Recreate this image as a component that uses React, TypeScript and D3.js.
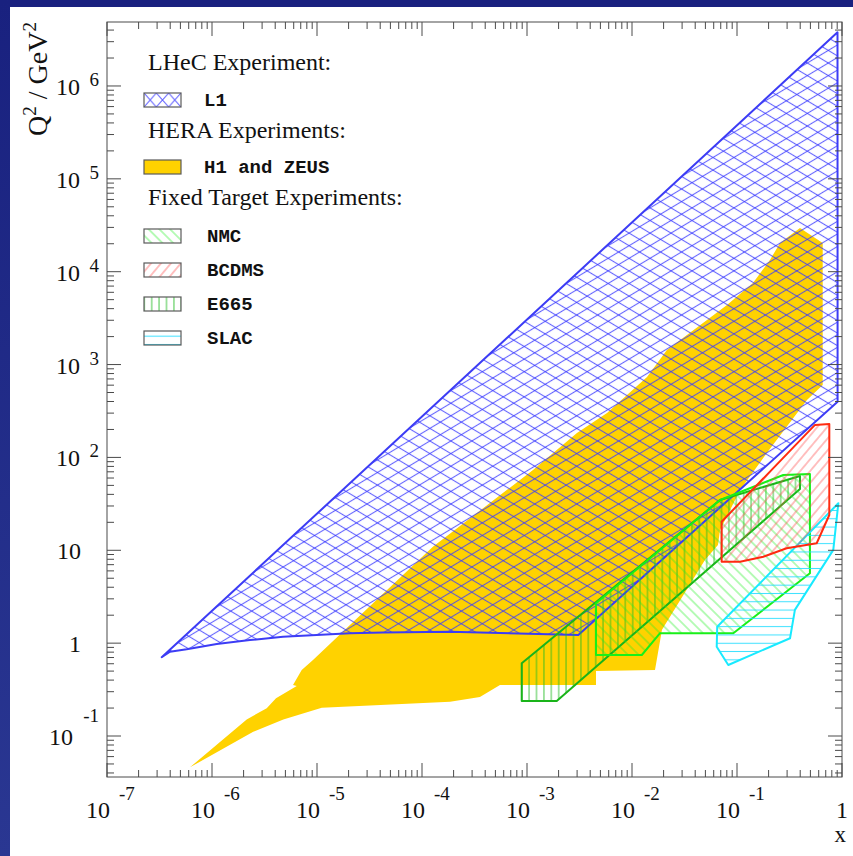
import React from "react";
import * as d3 from "d3";

const WIDTH = 853;
const HEIGHT = 856;

type Pt = [number, number];

// ---- kinematic regions in the (x, Q^2) plane ----
const lhecL1: Pt[] = [
  [3.32e-7, 0.705],
  [0.906, 3.78e6],
  [0.908, 398],
  [3.08e-3, 1.224],
  [1.85e-4, 1.33],
  [4.25e-5, 1.3],
  [2.06e-5, 1.28],
  [9.9e-6, 1.22],
  [4.74e-6, 1.17],
  [2.3e-6, 1.08],
  [1.11e-6, 0.98],
  [5.74e-7, 0.86],
  [3.98e-7, 0.81],
];

const heraH1Zeus: Pt[] = [
  [6.17e-7, 0.046],
  [2.14e-6, 0.151],
  [3.32e-6, 0.199],
  [4.07e-6, 0.255],
  [6.41e-6, 0.346],
  [5.91e-6, 0.354],
  [7.15e-6, 0.514],
  [9.16e-6, 0.659],
  [2.06e-5, 1.57],
  [1.27e-4, 10.9],
  [1.14e-3, 73.3],
  [2.99e-3, 183],
  [5.78e-3, 301],
  [1.39e-2, 735],
  [2.15e-2, 1435],
  [5.18e-2, 3020],
  [8.03e-2, 4385],
  [0.142, 7565],
  [0.206, 13370],
  [0.257, 20400],
  [0.398, 29600],
  [0.655, 20400],
  [0.655, 603],
  [0.464, 416],
  [0.193, 112],
  [0.107, 44.6],
  [0.0689, 16.5],
  [0.0659, 11.4],
  [0.0495, 7.87],
  [0.0193, 1.39],
  [0.01656, 0.514],
  [4.54e-3, 0.501],
  [4.54e-3, 0.354],
  [5.53e-4, 0.354],
  [3.56e-4, 0.263],
  [1.85e-4, 0.234],
  [1.11e-5, 0.202],
  [4.78e-6, 0.151],
  [2.47e-6, 0.111],
];

const nmc: Pt[] = [
  [4.54e-3, 2.69],
  [4.54e-3, 0.745],
  [1.24e-2, 0.745],
  [1.85e-2, 1.28],
  [9.22e-2, 1.28],
  [0.495, 5.65],
  [0.495, 66.3],
  [0.276, 64.7],
  [0.0689, 34.8],
];

const bcdms: Pt[] = [
  [0.0714, 7.54],
  [0.0714, 20.3],
  [0.553, 224],
  [0.757, 229],
  [0.757, 24.0],
  [0.574, 11.9],
  [0.297, 10.5],
  [0.178, 8.53],
  [0.107, 7.54],
];

const e665: Pt[] = [
  [8.91e-4, 0.607],
  [0.0689, 34.8],
  [0.398, 63.1],
  [0.398, 45.7],
  [1.92e-3, 0.238],
  [8.91e-4, 0.238],
];

const slac: Pt[] = [
  [0.0648, 1.5],
  [0.923, 32.1],
  [0.826, 10.1],
  [0.356, 2.28],
  [0.32, 1.13],
  [0.0826, 0.582],
  [0.0641, 0.916],
];

// ---- axis labels ----
const xTickLabels = [
  { v: 1e-7, base: "10", exp: "-7" },
  { v: 1e-6, base: "10", exp: "-6" },
  { v: 1e-5, base: "10", exp: "-5" },
  { v: 1e-4, base: "10", exp: "-4" },
  { v: 1e-3, base: "10", exp: "-3" },
  { v: 1e-2, base: "10", exp: "-2" },
  { v: 1e-1, base: "10", exp: "-1" },
  { v: 1, base: "1", exp: "" },
];
const yTickLabels = [
  { v: 1e-1, base: "10", exp: "-1" },
  { v: 1, base: "1", exp: "" },
  { v: 10, base: "10", exp: "" },
  { v: 1e2, base: "10", exp: "2" },
  { v: 1e3, base: "10", exp: "3" },
  { v: 1e4, base: "10", exp: "4" },
  { v: 1e5, base: "10", exp: "5" },
  { v: 1e6, base: "10", exp: "6" },
];

// ---- legend ----
const legendHeadings = ["LHeC Experiment:", "HERA Experiments:", "Fixed Target Experiments:"];
const legendEntries = ["L1", "H1 and ZEUS", "NMC", "BCDMS", "E665", "SLAC"];

// ---- layout ----
const plot = { left: 107, right: 842, top: 22, bottom: 777 };
const headingBaselines = [70, 138, 205];
const entryCenters = [100, 167, 236, 270, 304, 338];
const SERIF = "'Liberation Serif', 'Times New Roman', Times, serif";
const MONO = "'Liberation Mono', 'Courier New', Courier, monospace";
const AXIS = "#4a4a4a";

const x = d3.scaleLog().domain([1e-7, 1]).range([plot.left, plot.right]);
const y = d3
  .scaleLog()
  .domain([Math.pow(10, -1.4415), Math.pow(10, 6.689)])
  .range([plot.bottom, plot.top]);

const area = (pts: Pt[]) =>
  (d3
    .line<Pt>()
    .x((d) => x(d[0]))
    .y((d) => y(d[1]))(pts) || "") + "Z";

function logTicks(lo: number, hi: number, dom: [number, number]) {
  const major: number[] = [];
  const minor: number[] = [];
  for (let e = lo; e <= hi; e++) {
    for (let k = 1; k <= 9; k++) {
      const v = k * Math.pow(10, e);
      if (v < dom[0] * 0.999 || v > dom[1] * 1.001) continue;
      (k === 1 ? major : minor).push(v);
    }
  }
  return { major, minor };
}

const xt = logTicks(-7, 0, [1e-7, 1]);
const yt = logTicks(-2, 6, y.domain() as [number, number]);

function Hatch({
  id,
  angle,
  spacing,
  color,
  width = 1,
  opacity = 1,
}: {
  id: string;
  angle: number;
  spacing: number;
  color: string;
  width?: number;
  opacity?: number;
}) {
  return (
    <pattern
      id={id}
      patternUnits="userSpaceOnUse"
      width={spacing}
      height={spacing}
      patternTransform={`rotate(${angle})`}
    >
      <line
        x1={-1}
        x2={spacing + 1}
        y1={spacing / 2}
        y2={spacing / 2}
        stroke={color}
        strokeWidth={width}
        strokeOpacity={opacity}
      />
    </pattern>
  );
}

const MAJ = 14;
const MIN = 7;

export default function App() {
  const gold = "#ffd200";
  const l1Line = "#3c3cf5";
  const l1Fill = ["url(#l1a)", "url(#l1b)"];

  const swatchX = 144;
  const swatchW = 37;
  const swatchH = 14;
  const crossW = swatchW / 3;

  const swatchFills: string[][] = [
    ["url(#l1leg)"],
    [gold],
    ["url(#nmcH)"],
    ["url(#bcdmsH)"],
    ["url(#e665H)"],
    ["url(#slacH)"],
  ];

  return (
    <svg
      width={WIDTH}
      height={HEIGHT}
      style={{ position: "absolute", left: 0, top: 0, display: "block" }}
      xmlns="http://www.w3.org/2000/svg"
    >
      <defs>
        <linearGradient id="frameGrad" x1="0" y1="0" x2="0" y2="1">
          <stop offset="0%" stopColor="#19217f" />
          <stop offset="100%" stopColor="#2a3792" />
        </linearGradient>
        <Hatch id="l1a" angle={-31} spacing={10.8} color="#3a3aff" width={1.1} opacity={0.78} />
        <Hatch id="l1b" angle={31} spacing={10.8} color="#3a3aff" width={1.1} opacity={0.78} />
        <pattern
          id="l1leg"
          patternUnits="userSpaceOnUse"
          x={swatchX}
          y={entryCenters[0] - swatchH / 2}
          width={crossW}
          height={swatchH}
        >
          <path
            d={`M0,0L${crossW},${swatchH}M0,${swatchH}L${crossW},0`}
            stroke="#3a3aff"
            strokeOpacity={0.78}
            strokeWidth={1.1}
            fill="none"
          />
        </pattern>
        <Hatch id="nmcH" angle={45} spacing={7.6} color="#22ee22" opacity={0.65} />
        <Hatch id="bcdmsH" angle={-50} spacing={7.6} color="#ff4040" opacity={0.65} />
        <Hatch id="e665H" angle={90} spacing={7.4} color="#22bb22" opacity={0.85} />
        <Hatch id="slacH" angle={0} spacing={8.3} color="#22ddff" opacity={0.9} />
      </defs>

      {/* page background and blue frame */}
      <rect x={0} y={0} width={WIDTH} height={HEIGHT} fill="#ffffff" />
      <rect x={0} y={0} width={WIDTH} height={7} fill="#19217f" />
      <rect x={0} y={0} width={10} height={HEIGHT} fill="url(#frameGrad)" />

      {/* HERA */}
      <path d={area(heraH1Zeus)} fill={gold} />

      {/* LHeC */}
      {l1Fill.map((f) => (
        <path key={f} d={area(lhecL1)} fill={f} />
      ))}
      <path d={area(lhecL1)} fill="none" stroke={l1Line} strokeWidth={2} strokeLinejoin="round" />

      {/* fixed target experiments */}
      <path d={area(e665)} fill="url(#e665H)" stroke="#1ab41a" strokeWidth={2} strokeLinejoin="round" />
      <path d={area(nmc)} fill="url(#nmcH)" stroke="#18f018" strokeWidth={2} strokeLinejoin="round" />
      <path d={area(slac)} fill="url(#slacH)" stroke="#18eaff" strokeWidth={2} strokeLinejoin="round" />
      <path d={area(bcdms)} fill="url(#bcdmsH)" stroke="#ff2a10" strokeWidth={2} strokeLinejoin="round" />

      {/* frame */}
      <rect
        x={plot.left}
        y={plot.top}
        width={plot.right - plot.left}
        height={plot.bottom - plot.top}
        fill="none"
        stroke={AXIS}
        strokeWidth={1}
      />

      {/* ticks on all four sides */}
      <g stroke={AXIS} strokeWidth={1}>
        {[...xt.major.map((v) => [v, MAJ]), ...xt.minor.map((v) => [v, MIN])].map(([v, len], i) => (
          <g key={"xt" + i}>
            <line x1={x(v)} x2={x(v)} y1={plot.bottom} y2={plot.bottom - len} />
            <line x1={x(v)} x2={x(v)} y1={plot.top} y2={plot.top + len} />
          </g>
        ))}
        {[...yt.major.map((v) => [v, MAJ]), ...yt.minor.map((v) => [v, MIN])].map(([v, len], i) => (
          <g key={"yt" + i}>
            <line x1={plot.left} x2={plot.left + len} y1={y(v)} y2={y(v)} />
            <line x1={plot.right} x2={plot.right - len} y1={y(v)} y2={y(v)} />
          </g>
        ))}
      </g>

      {/* x tick labels */}
      <g fontFamily={SERIF} fill="#111">
        {xTickLabels.map((t) =>
          t.exp ? (
            <g key={"xl" + t.v}>
              <text x={x(t.v) + 3} y={plot.bottom + 41} fontSize={24} textAnchor="end">
                {t.base}
              </text>
              <text x={x(t.v) + 12} y={plot.bottom + 23} fontSize={19}>
                {t.exp}
              </text>
            </g>
          ) : (
            <text key={"xl" + t.v} x={x(t.v)} y={plot.bottom + 41} fontSize={24} textAnchor="middle">
              {t.base}
            </text>
          )
        )}
        <text x={846} y={842} fontSize={23} textAnchor="end">
          x
        </text>
      </g>

      {/* y tick labels */}
      <g fontFamily={SERIF} fill="#111">
        {yTickLabels.map((t) =>
          t.exp ? (
            <g key={"yl" + t.v}>
              <text x={99 - (t.exp.length > 1 ? 26 : 19)} y={y(t.v) + 9} fontSize={24} textAnchor="end">
                {t.base}
              </text>
              <text
                x={99}
                y={y(t.v) + (t.exp.startsWith("-") ? -14 : 0)}
                fontSize={19}
                textAnchor="end"
              >
                {t.exp}
              </text>
            </g>
          ) : (
            <text key={"yl" + t.v} x={81} y={y(t.v) + 9} fontSize={24} textAnchor="end">
              {t.base}
            </text>
          )
        )}
      </g>

      {/* y axis title */}
      <text
        transform={`translate(47, 22) rotate(-90)`}
        fontFamily={SERIF}
        fontSize={28}
        textAnchor="end"
        fill="#111"
      >
        Q<tspan fontSize={19} dy={-11}>2</tspan>
        <tspan dy={11}> / GeV</tspan>
        <tspan fontSize={19} dy={-11}>2</tspan>
      </text>

      {/* legend */}
      <g fontFamily={SERIF} fontSize={24} fill="#111">
        {legendHeadings.map((h, i) => (
          <text key={h} x={148} y={headingBaselines[i]}>
            {h}
          </text>
        ))}
      </g>
      {legendEntries.map((label, i) => {
        const cy = entryCenters[i];
        const y0 = cy - swatchH / 2;
        return (
          <g key={label}>
            {swatchFills[i].map((f) => (
              <rect key={f} x={swatchX} y={y0} width={swatchW} height={swatchH} fill={f} />
            ))}
            <rect
              x={swatchX}
              y={y0}
              width={swatchW}
              height={swatchH}
              fill="none"
              stroke="#5a5a5a"
              strokeWidth={1.2}
            />
            <text
              x={i < 2 ? 204 : 207}
              y={cy + 6}
              fontFamily={MONO}
              fontWeight="bold"
              fontSize={19}
              fill="#111"
            >
              {label}
            </text>
          </g>
        );
      })}
    </svg>
  );
}
